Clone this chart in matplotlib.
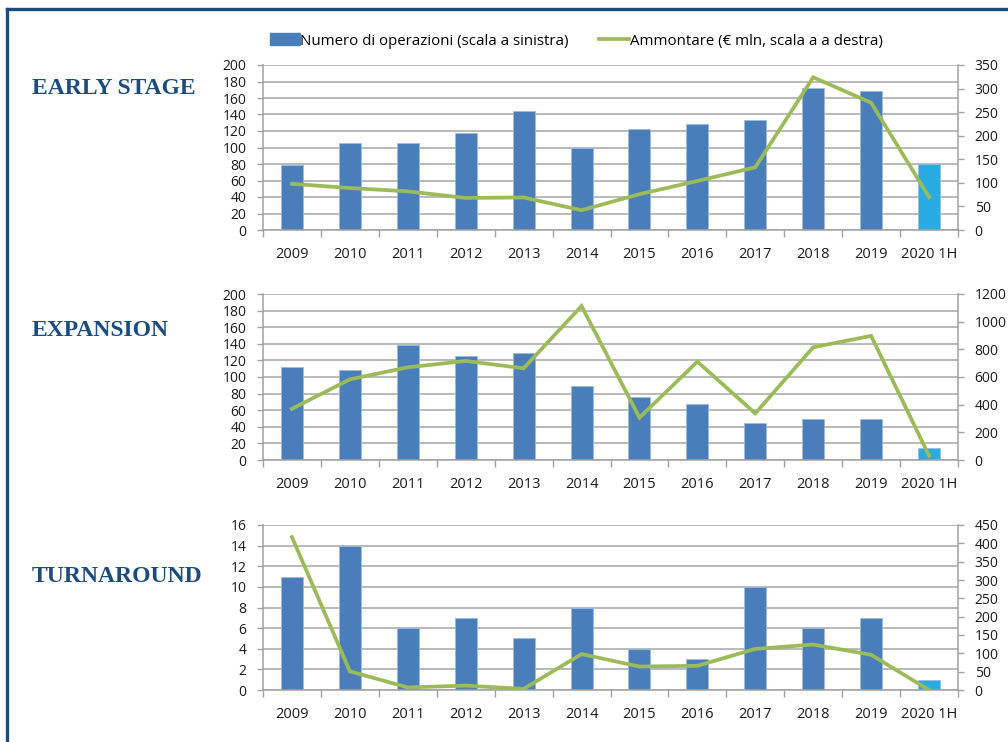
import matplotlib
matplotlib.use("Agg")
import matplotlib.pyplot as plt
from matplotlib.patches import Patch
from matplotlib.lines import Line2D
import numpy as np

categories = ["2009", "2010", "2011", "2012", "2013", "2014", "2015",
              "2016", "2017", "2018", "2019", "2020 1H"]

early_count = [79, 106, 106, 118, 144, 100, 122, 128, 133, 172, 168, 80]
early_amount = [98, 89, 82, 68, 69, 42, 76, 104, 133, 324, 270, 70]

expansion_count = [112, 109, 139, 125, 129, 89, 76, 67, 45, 50, 49, 14]
expansion_amount = [370, 583, 670, 716, 663, 1113, 306, 711, 337, 815, 897, 31]

turnaround_count = [11, 14, 6, 7, 5, 8, 4, 3, 10, 6, 7, 1]
turnaround_amount = [417, 51, 7, 12, 3, 98, 64, 66, 112, 124, 96, 0]

titles = ["EARLY STAGE", "EXPANSION", "TURNAROUND"]
legend_labels = ["Numero di operazioni (scala a sinistra)",
                 "Ammontare (€ mln, scala a a destra)"]

BAR = "#4A7EBB"
BAR_LAST = "#29ABE2"
LINE = "#9BBB59"
GRID = "#A6A6A6"
SPINE = "#A0A0A0"
NAVY = "#1B4C80"
TXT = "#1A1A1A"

plt.rcParams['font.family'] = ['Open Sans', 'DejaVu Sans']

W, H = 1008, 742
fig = plt.figure(figsize=(W / 100, H / 100), dpi=100)

panels = [
    dict(count=early_count, amount=early_amount, top=65, bottom=230,
         lmax=200, lstep=20, rmax=350, rstep=50, title_y=89),
    dict(count=expansion_count, amount=expansion_amount, top=294, bottom=460,
         lmax=200, lstep=20, rmax=1200, rstep=200, title_y=331),
    dict(count=turnaround_count, amount=turnaround_amount, top=525, bottom=690,
         lmax=16, lstep=2, rmax=450, rstep=50, title_y=577),
]

x_left, x_right = 263, 958
x = np.arange(len(categories))
colors = [BAR] * (len(categories) - 1) + [BAR_LAST]

for p, title in zip(panels, titles):
    ax = fig.add_axes([x_left / W, 1 - p['bottom'] / H,
                       (x_right - x_left) / W, (p['bottom'] - p['top']) / H])
    ax.bar(x, p['count'], width=0.38, color=colors, edgecolor="#9DBBE0",
           linewidth=0.6, zorder=2)
    ax.set_xlim(-0.5, len(categories) - 0.5)
    ax.set_ylim(0, p['lmax'])
    ax.set_yticks(np.arange(0, p['lmax'] + 1, p['lstep']))
    ax.set_axisbelow(True)
    ax.yaxis.grid(True, color=GRID, linewidth=1.1)
    for s in ['top', 'right']:
        ax.spines[s].set_visible(False)
    for s in ['left', 'bottom']:
        ax.spines[s].set_color(SPINE)
        ax.spines[s].set_linewidth(1.1)
    ax.tick_params(axis='y', colors=SPINE, length=4, width=1.0, pad=8,
                   labelcolor=TXT, labelsize=10)
    # category boundary ticks & centered labels
    ax.set_xticks(np.arange(-0.5, len(categories), 1.0))
    ax.set_xticklabels([])
    ax.tick_params(axis='x', which='major', colors=SPINE, length=5, width=1.0)
    ax.set_xticks(x, minor=True)
    ax.set_xticklabels(categories, minor=True)
    ax.tick_params(axis='x', which='minor', length=0, pad=12,
                   labelcolor=TXT, labelsize=10.5)

    ax2 = ax.twinx()
    ax2.plot(x, p['amount'], color=LINE, linewidth=2.7, zorder=3,
             solid_joinstyle='miter')
    ax2.set_ylim(0, p['rmax'])
    ax2.set_yticks(np.arange(0, p['rmax'] + 1, p['rstep']))
    for s in ['top', 'left', 'bottom']:
        ax2.spines[s].set_visible(False)
    ax2.spines['right'].set_color(SPINE)
    ax2.spines['right'].set_linewidth(1.1)
    ax2.tick_params(axis='y', colors=SPINE, length=4, width=1.0, pad=8,
                    labelcolor=TXT, labelsize=10)

    fig.text(32 / W, 1 - p['title_y'] / H, title, family='Liberation Serif',
             fontweight='bold', fontsize=17, color=NAVY, va='center',
             ha='left')

handles = [Patch(facecolor=BAR, edgecolor=BAR),
           Line2D([0], [0], color=LINE, linewidth=2.7)]
fig.legend(handles, legend_labels, loc='center', ncol=2,
           bbox_to_anchor=(576 / W, 1 - 41 / H), frameon=False,
           fontsize=10.8, handlelength=2.0, handletextpad=0.05,
           columnspacing=2.0, handleheight=0.85)

# frame
fig.add_artist(Line2D([7 / W, 7 / W], [0, 1 - 9 / H], transform=fig.transFigure,
                      color=NAVY, linewidth=2.4, solid_capstyle='projecting'))
fig.add_artist(Line2D([7 / W, 1], [1 - 9 / H, 1 - 9 / H],
                      transform=fig.transFigure, color=NAVY, linewidth=2.4,
                      solid_capstyle='projecting'))

fig.savefig("out.png", dpi=100)
